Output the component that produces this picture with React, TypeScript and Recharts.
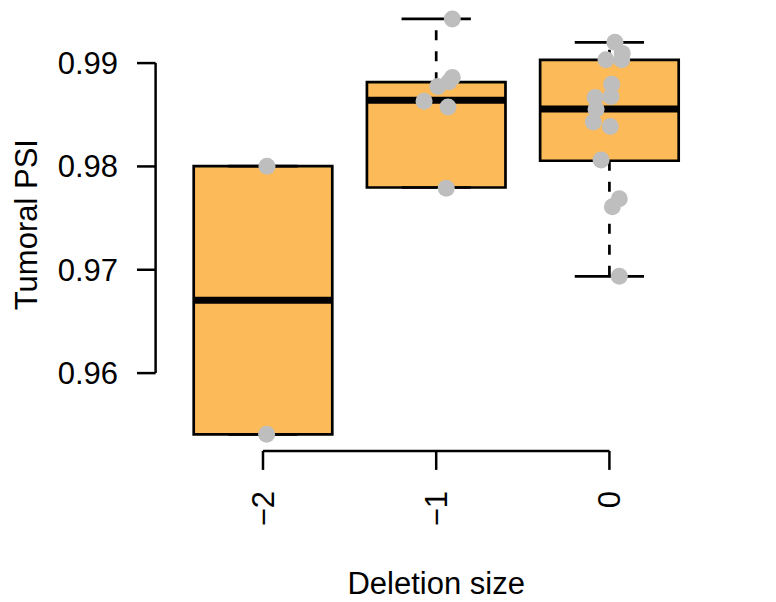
import {
  ComposedChart,
  ReferenceArea,
  ReferenceLine,
  Scatter,
  XAxis,
  YAxis,
} from "recharts";

const groups = ["\u22122", "\u22121", "0"];

// five-number summaries per group
const boxMin = [0.95408, 0.97796, 0.96937];
const boxQ1 = [0.95408, 0.97796, 0.98055];
const boxMedian = [0.96704, 0.98641, 0.98555];
const boxQ3 = [0.98002, 0.98815, 0.99032];
const boxMax = [0.98002, 0.99427, 0.99201];

// jittered points (group index, horizontal offset, value)
const pointGroup = [0, 0, 1, 1, 1, 1, 1, 1, 1, 2, 2, 2, 2, 2, 2, 2, 2, 2, 2, 2, 2, 2, 2];
const pointJitter = [
  0.023, 0.021,
  0.093, 0.093, 0.074, 0.009, -0.07, 0.068, 0.058,
  0.032, 0.074, 0.071, -0.02, 0.013, 0.009, -0.083, -0.077, -0.093, 0.005, -0.048, 0.057, 0.017, 0.057,
];
const pointValue = [
  0.98001, 0.95408,
  0.99427, 0.98861, 0.98819, 0.98774, 0.98631, 0.98576, 0.9779,
  0.99201, 0.99094, 0.99032, 0.99032, 0.98796, 0.98677, 0.98667, 0.98554, 0.98431, 0.98386, 0.98062, 0.97688, 0.9761, 0.96937,
];

const yTicks = [0.96, 0.97, 0.98, 0.99];

const FONT = '"Liberation Sans", Arial, sans-serif';
const FONT_SIZE = 31;
const BOX_FILL = "#FCBB58";
const POINT_FILL = "#BEBEBE";

const XTick = (props: any) => {
  const { x, y, payload } = props;
  return (
    <text
      transform={`translate(${x},${y + 1}) rotate(-90)`}
      textAnchor="end"
      dy="0.35em"
      fontSize={FONT_SIZE}
      fontFamily={FONT}
      fill="#000"
    >
      {groups[payload.value - 1]}
    </text>
  );
};

export default function App() {
  const pos = groups.map((_, i) => i + 1);
  const scatterData = pointValue.map((v, i) => ({
    x: pointGroup[i] + 1 + pointJitter[i],
    y: v,
  }));

  const all = [...boxMin, ...boxMax, ...pointValue];
  const lo = Math.min(...all);
  const hi = Math.max(...all);
  const pad = (hi - lo) * 0.04;
  const yDomain = [lo - pad, hi + pad];
  const xDomain = [0.38, groups.length + 0.62];

  return (
    <div style={{ position: "absolute", left: 0, top: 0, width: 776, height: 602, background: "#fff" }}>
      <ComposedChart
        width={776}
        height={602}
        margin={{ top: 2.35, right: 59.2, bottom: 0, left: 0 }}
      >
        <XAxis
          type="number"
          dataKey="x"
          domain={xDomain}
          ticks={pos}
          interval={0}
          allowDataOverflow
          axisLine={false}
          height={151.1}
          tickSize={19}
          tickMargin={20}
          tickLine={{ stroke: "#000", strokeWidth: 2.5 }}
          tick={<XTick />}
          label={{
            content: (p: any) => {
              const vb = p.viewBox;
              return (
                <text
                  x={vb.x + vb.width / 2}
                  y={vb.y + vb.height - 8}
                  textAnchor="middle"
                  fontSize={FONT_SIZE}
                  fontFamily={FONT}
                  fill="#000"
                >
                  Deletion size
                </text>
              );
            },
          }}
        />
        <YAxis
          type="number"
          dataKey="y"
          domain={yDomain}
          ticks={yTicks}
          interval={0}
          allowDataOverflow
          axisLine={false}
          width={155.6}
          tickSize={18.6}
          tickMargin={19}
          tickLine={{ stroke: "#000", strokeWidth: 2.5 }}
          tick={{ fill: "#000", fontSize: FONT_SIZE, fontFamily: FONT }}
          tickFormatter={(v: number) => v.toFixed(2)}
          label={{
            content: (p: any) => {
              const vb = p.viewBox;
              const cy = vb.y + vb.height / 2 - 2;
              return (
                <text
                  transform={`translate(37,${cy}) rotate(-90)`}
                  textAnchor="middle"
                  fontSize={FONT_SIZE}
                  fontFamily={FONT}
                  fill="#000"
                >
                  Tumoral PSI
                </text>
              );
            },
          }}
        />

        {/* partial axis lines, as base R draws them */}
        <ReferenceLine
          segment={[{ x: xDomain[0], y: yTicks[0] }, { x: xDomain[0], y: yTicks[yTicks.length - 1] }]}
          stroke="#000"
          strokeWidth={2.5}
          ifOverflow="visible"
        />
        <ReferenceLine
          segment={[{ x: pos[0], y: yDomain[0] }, { x: pos[pos.length - 1], y: yDomain[0] }]}
          stroke="#000"
          strokeWidth={2.5}
          ifOverflow="visible"
        />

        {pos.map((g, i) => (
          <ReferenceLine
            key={`wu${i}`}
            segment={[{ x: g, y: boxQ3[i] }, { x: g, y: boxMax[i] }]}
            stroke="#000"
            strokeWidth={2.7}
            strokeDasharray="10 11"
            ifOverflow="visible"
          />
        ))}
        {pos.map((g, i) => (
          <ReferenceLine
            key={`wl${i}`}
            segment={[{ x: g, y: boxQ1[i] }, { x: g, y: boxMin[i] }]}
            stroke="#000"
            strokeWidth={2.7}
            strokeDasharray="10 11"
            ifOverflow="visible"
          />
        ))}
        {pos.map((g, i) => (
          <ReferenceLine
            key={`su${i}`}
            segment={[{ x: g - 0.2, y: boxMax[i] }, { x: g + 0.2, y: boxMax[i] }]}
            stroke="#000"
            strokeWidth={2.7}
            ifOverflow="visible"
          />
        ))}
        {pos.map((g, i) => (
          <ReferenceLine
            key={`sl${i}`}
            segment={[{ x: g - 0.2, y: boxMin[i] }, { x: g + 0.2, y: boxMin[i] }]}
            stroke="#000"
            strokeWidth={2.7}
            ifOverflow="visible"
          />
        ))}
        {pos.map((g, i) => (
          <ReferenceArea
            key={`b${i}`}
            x1={g - 0.4}
            x2={g + 0.4}
            y1={boxQ1[i]}
            y2={boxQ3[i]}
            fill={BOX_FILL}
            fillOpacity={1}
            stroke="#000"
            strokeWidth={2.7}
            ifOverflow="visible"
          />
        ))}
        {pos.map((g, i) => (
          <ReferenceLine
            key={`m${i}`}
            segment={[{ x: g - 0.4, y: boxMedian[i] }, { x: g + 0.4, y: boxMedian[i] }]}
            stroke="#000"
            strokeWidth={7}
            ifOverflow="visible"
          />
        ))}

        <Scatter
          data={scatterData}
          isAnimationActive={false}
          shape={(p: any) => <circle cx={p.cx} cy={p.cy} r={8.5} fill={POINT_FILL} />}
        />
      </ComposedChart>
    </div>
  );
}
